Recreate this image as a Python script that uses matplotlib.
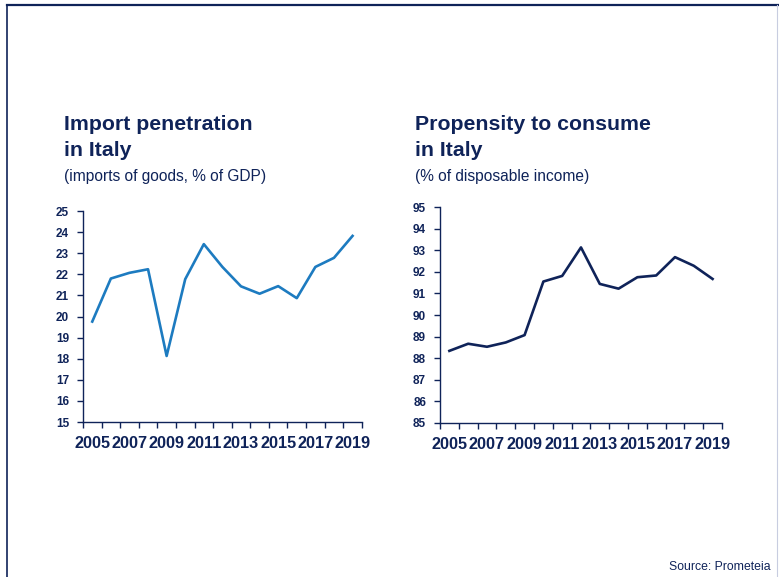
import numpy as np
import matplotlib.pyplot as plt
from matplotlib.lines import Line2D

years = list(range(2005, 2020))
year_labels = [str(y) if y % 2 == 1 else '' for y in years]

import_pen = [19.76, 21.8, 22.07, 22.24, 18.13, 21.77, 23.43, 22.35, 21.43,
              21.08, 21.44, 20.87, 22.35, 22.78, 23.82]
consume = [88.34, 88.67, 88.53, 88.73, 89.07, 91.55, 91.81, 93.13, 91.44,
           91.22, 91.75, 91.83, 92.68, 92.28, 91.67]

NAVY = '#0f2359'
BLUE = '#1d7bc0'

plt.rcParams['font.family'] = ['Liberation Sans', 'DejaVu Sans']

fig = plt.figure(figsize=(7.79, 5.77), dpi=100)

panels = [
	dict(rect=[0.1065, 0.2686, 0.358, 0.3657], data=import_pen, color=BLUE,
	     ylim=(15, 25), title='Import penetration\nin Italy',
	     sub='(imports of goods, % of GDP)', tx=64),
	dict(rect=[0.5648, 0.2669, 0.362, 0.3743], data=consume, color=NAVY,
	     ylim=(85, 95), title='Propensity to consume\nin Italy',
	     sub='(% of disposable income)', tx=415),
]

x = np.arange(len(years))
for p in panels:
	ax = fig.add_axes(p['rect'])
	ax.plot(x, p['data'], color=p['color'], lw=1.9)
	ax.set_xlim(-0.5, len(years) - 0.5)
	ax.set_ylim(*p['ylim'])
	ax.set_yticks(range(p['ylim'][0], p['ylim'][1] + 1))
	ax.set_xticks(x)
	ax.set_xticklabels(year_labels, fontsize=11.7, fontweight='bold', color=NAVY)
	ax.set_xticks(np.arange(-0.5, len(years)), minor=True)
	ax.tick_params(axis='x', which='major', length=0, pad=10)
	ax.tick_params(axis='x', which='minor', length=4, width=1, color=NAVY)
	ax.tick_params(axis='y', length=4, width=1, color=NAVY, labelsize=8.5,
	               labelcolor=NAVY, pad=6)
	for lab in ax.get_yticklabels():
		lab.set_fontweight('bold')
	for s in ['top', 'right']:
		ax.spines[s].set_visible(False)
	for s in ['left', 'bottom']:
		ax.spines[s].set_color(NAVY)
		ax.spines[s].set_linewidth(1)

	fig.text(p['tx'] / 779, 1 - 115 / 577, p['title'], ha='left', va='top',
	         fontsize=15.3, fontweight='bold', color=NAVY, linespacing=1.45)
	fig.text(p['tx'] / 779, 1 - 169 / 577, p['sub'], ha='left', va='top',
	         fontsize=11.2, color=NAVY)

fig.text(771 / 779, 1 - 570 / 577, 'Source: Prometeia', ha='right',
         va='baseline', fontsize=8.8, color=NAVY)

# frame around the slide
fig.add_artist(Line2D([7 / 779, 1], [1 - 5 / 577, 1 - 5 / 577],
                      transform=fig.transFigure, color=NAVY, lw=1.6))
fig.add_artist(Line2D([7 / 779, 7 / 779], [0, 1 - 5 / 577],
                      transform=fig.transFigure, color=NAVY, lw=1.2))
fig.add_artist(Line2D([777 / 779, 777 / 779], [0, 1 - 5 / 577],
                      transform=fig.transFigure, color='#c8cde0', lw=0.8))

fig.savefig('out.png', dpi=100)
